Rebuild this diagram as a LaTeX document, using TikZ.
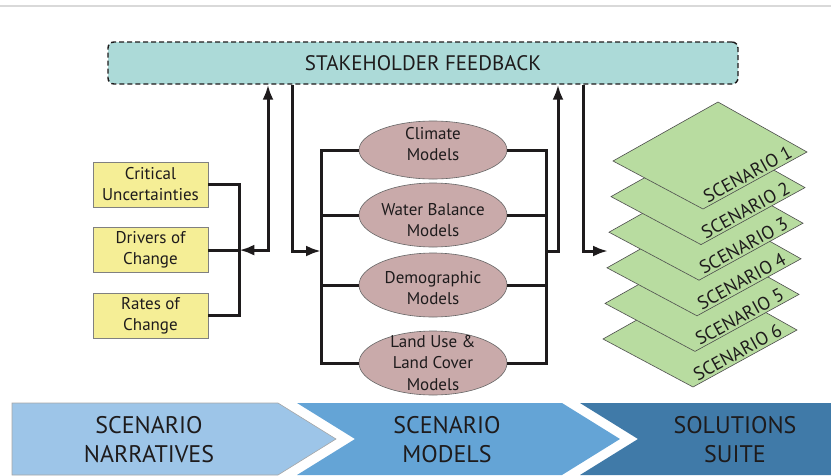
\documentclass[tikz,border=0pt]{standalone}
\usepackage{fontspec}
\setmainfont{PT Sans}
\usetikzlibrary{positioning,arrows.meta,shapes.geometric}

\definecolor{feedcol}{RGB}{172,218,216}
\definecolor{drivercol}{RGB}{245,238,150}
\definecolor{modelcol}{RGB}{201,170,170}
\definecolor{scencol}{RGB}{184,220,160}
\definecolor{stageA}{RGB}{157,197,232}
\definecolor{stageB}{RGB}{100,164,214}
\definecolor{stageC}{RGB}{64,122,168}
\definecolor{inkcol}{RGB}{30,27,28}

\tikzset{
  feedback/.style={draw=inkcol, line width=1.4pt, dash pattern=on 5pt off 3pt,
    fill=feedcol, rounded corners=6pt, minimum width=630pt, minimum height=42pt,
    font=\fontsize{21}{25}\selectfont, text=inkcol},
  driver/.style={draw=gray, line width=0.6pt, fill=drivercol, minimum width=115pt,
    minimum height=45pt, inner sep=0pt, align=center,
    font=\fontsize{17}{21}\selectfont, text=inkcol},
  model/.style={ellipse, draw=gray!80!black, line width=0.6pt, fill=modelcol,
    minimum width=148pt, minimum height=64pt, inner sep=0pt},
  modeltext/.style={align=center, font=\fontsize{17}{21.5}\selectfont, text=inkcol},
  layer/.style={fill=scencol, draw=gray!60!black, line width=0.6pt},
  scenlabel/.style={font=\fontsize{18.5}{22}\selectfont, text=inkcol, inner sep=0.5pt},
  stagetext/.style={align=center, font=\fontsize{24}{29}\selectfont, text=inkcol},
  link/.style={draw=inkcol, line width=3pt},
  tip/.style={-{Latex[length=15pt,width=11pt]}},
  twotip/.style={{Latex[length=15pt,width=11pt]}-{Latex[length=15pt,width=11pt]}}
}

\begin{document}
\begin{tikzpicture}[x=1pt,y=-1pt]
  \useasboundingbox (0,0) rectangle (831,475);
  \draw[gray!30, line width=2pt] (0,6) -- (831,6);

  % Define nodes

  \node[feedback]                     (feedback) at (423,63) {STAKEHOLDER FEEDBACK}; %
  \node[driver]                       (crit) at (150.5,184.5) {Critical\\Uncertainties}; %
  \node[driver, below=20pt of crit]   (drivers) {Drivers of\\Change}; %
  \node[driver, below=20pt of drivers] (rates) {Rates of\\Change}; %

  % models
  \node[model, minimum height=58pt]   (climate) at (433,150) {}; %
  \node[model]                        (water) at (433,215) {}; %
  \node[model]                        (demo) at (433,285) {}; %
  \node[model]                        (land) at (433,363) {}; %
  \node[modeltext] (climate-text) at ([yshift=6pt]climate) {Climate\\Models}; %
  \node[modeltext] (water-text) at ([yshift=-5pt]water) {Water Balance\\Models}; %
  \node[modeltext] (demo-text) at ([yshift=-3pt]demo) {Demographic\\Models}; %
  \node[modeltext] (land-text) at (land) {Land Use \&\\Land Cover\\Models}; %

  % junctions
  \coordinate (lbus) at ([xshift=31pt]drivers.east); %
  \coordinate (up1) at (268,251); %
  \coordinate (dn1) at (292,251); %
  \coordinate (mlbus) at (321,251); %
  \coordinate (mrbus) at (546,251); %
  \coordinate (up2) at (558,251); %
  \coordinate (dn2) at (583,251); %
  \coordinate (stack) at (608,251); %

  % Connect the nodes
  \draw[link] (crit.east) -| (lbus) |- (rates.east);
  \draw[link] (drivers.east) -- (lbus);
  \draw[link, twotip] (lbus) -| (feedback.south -| up1);
  \draw[link, tip] (feedback.south -| dn1) |- (mlbus);
  \draw[link] (climate.west) -| (mlbus) |- (land.west);
  \draw[link] (water.west) -- (water.west -| mlbus);
  \draw[link] (demo.west) -- (demo.west -| mlbus);
  \draw[link] (climate.east) -| (mrbus) |- (land.east);
  \draw[link] (water.east) -- (water.east -| mrbus);
  \draw[link] (demo.east) -- (demo.east -| mrbus);
  \draw[link, tip] (mrbus) -| (feedback.south -| up2);
  \draw[link, tip] (feedback.south -| dn2) |- (stack);

  % scenario layers
  \foreach \n in {6,...,1} {
    \begin{scope}[shift={(-2*\n+2,35.6*\n-35.6)}]
      \filldraw[layer] (613,161) -- (718,102) -- (807,152) coordinate (R)
        -- (703,209) coordinate (B) -- cycle;
      \path (B) -- (R) node[scenlabel, pos=0.47, sloped, above=1.5pt] (scen\n) {SCENARIO \n};
    \end{scope}
  }

  % stages
  \filldraw[fill=stageA, draw=gray!70, line width=0.6pt]
    (12,403) -- (278,403) -- (336,439) -- (278,475) -- (12,475) -- cycle;
  \fill[stageB] (297,403) -- (562,403) -- (620,439) -- (562,475) -- (297,475) -- (355,439) -- cycle;
  \fill[stageC] (580,403) -- (831,403) -- (831,475) -- (580,475) -- (638,439) -- cycle;
  \node[stagetext] (narratives) at (149,440) {SCENARIO\\NARRATIVES}; %
  \node[stagetext] (models) at (447,440) {SCENARIO\\MODELS}; %
  \node[stagetext] (suite) at (735,440) {SOLUTIONS\\SUITE}; %

\end{tikzpicture}
\end{document}
